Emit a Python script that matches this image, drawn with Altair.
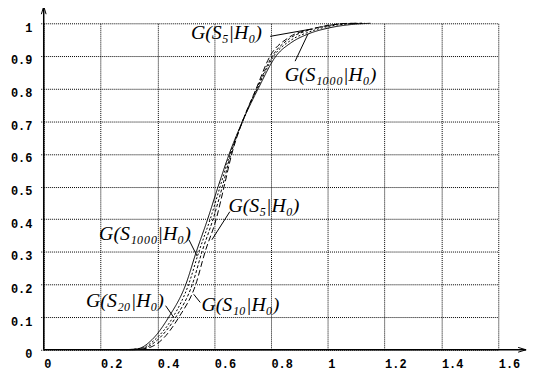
import altair as alt
import pandas as pd

# ---- data (curve points: x, cumulative probability) ----
curve_names = ["S1000", "S20", "S10", "S5"]

s1000_x = [0.27, 0.33, 0.38, 0.44, 0.50, 0.537, 0.577, 0.614, 0.653, 0.70, 0.755, 0.818, 0.87, 0.93, 1.00, 1.08, 1.15]
s1000_y = [0.0, 0.003, 0.03, 0.10, 0.20, 0.30, 0.40, 0.50, 0.60, 0.70, 0.80, 0.90, 0.94, 0.967, 0.985, 0.996, 1.0]

s20_x = [0.29, 0.345, 0.39, 0.455, 0.51, 0.546, 0.586, 0.621, 0.656, 0.70, 0.752, 0.81, 0.87, 0.93, 1.00, 1.07, 1.13]
s20_y = [0.0, 0.005, 0.03, 0.10, 0.20, 0.30, 0.40, 0.50, 0.60, 0.70, 0.80, 0.90, 0.948, 0.972, 0.99, 0.998, 1.0]

s10_x = [0.30, 0.35, 0.40, 0.465, 0.523, 0.557, 0.596, 0.629, 0.659, 0.70, 0.75, 0.805, 0.865, 0.93, 1.00, 1.06, 1.12]
s10_y = [0.0, 0.004, 0.03, 0.10, 0.20, 0.30, 0.40, 0.50, 0.60, 0.70, 0.80, 0.90, 0.953, 0.978, 0.993, 0.999, 1.0]

s5_x = [0.31, 0.36, 0.415, 0.476, 0.535, 0.568, 0.607, 0.635, 0.662, 0.70, 0.748, 0.797, 0.86, 0.94, 1.00, 1.05, 1.10]
s5_y = [0.0, 0.004, 0.03, 0.10, 0.20, 0.30, 0.40, 0.50, 0.60, 0.70, 0.80, 0.90, 0.955, 0.982, 0.993, 0.999, 1.0]

x_ticks = [0, 0.2, 0.4, 0.6, 0.8, 1, 1.2, 1.4, 1.6]
y_ticks = [0, 0.1, 0.2, 0.3, 0.4, 0.5, 0.6, 0.7, 0.8, 0.9, 1]

label_text = ["G(S₅|H₀)", "G(S₁₀₀₀|H₀)", "G(S₅|H₀)", "G(S₁₀₀₀|H₀)", "G(S₂₀|H₀)", "G(S₁₀|H₀)"]
label_x = [0.518, 0.848, 0.650, 0.195, 0.149, 0.555]
label_y = [0.951, 0.824, 0.4225, 0.337, 0.131, 0.119]

leader_x = [0.797, 0.885, 0.655, 0.511, 0.429, 0.551]
leader_y = [0.960, 0.884, 0.423, 0.337, 0.135, 0.145]
leader_x2 = [0.940, 0.930, 0.592, 0.540, 0.458, 0.528]
leader_y2 = [0.982, 0.967, 0.337, 0.287, 0.099, 0.170]

# ---- tables ----
rows = []
for name, xs_, ys_ in zip(curve_names, [s1000_x, s20_x, s10_x, s5_x], [s1000_y, s20_y, s10_y, s5_y]):
    for a, b in zip(xs_, ys_):
        rows.append({"curve": name, "x": a, "y": b})
curves = pd.DataFrame(rows)

labels = pd.DataFrame({"x": label_x, "y": label_y, "text": label_text})
leaders = pd.DataFrame({"x": leader_x, "y": leader_y, "x2": leader_x2, "y2": leader_y2})
axes_df = pd.DataFrame({"x": [0, 0], "y": [0, 0], "x2": [0, 1.698], "y2": [1.052, 0]})

xs = alt.Scale(domain=[0, 1.6], nice=False, zero=False)
ys = alt.Scale(domain=[0, 1], nice=False, zero=False)

X_AX = alt.Axis(values=x_ticks, format="~g", title=None, domain=False, ticks=False,
                labelAlign="left", labelBaseline="top", labelPadding=9,
                labelFont="Liberation Mono", labelFontWeight="bold", labelFontSize=12,
                labelColor="black", grid=True, gridDash=[1, 1], gridColor="black",
                gridOpacity=1, labelFlush=False, labelOverlap=False)
Y_AX = alt.Axis(values=y_ticks, format="~g", title=None, domain=False, ticks=True,
                tickSize=4, tickDash=[1, 1], tickColor="black",
                labelPadding=8, labelOffset=4,
                labelFont="Liberation Mono", labelFontWeight="bold", labelFontSize=12,
                labelColor="black", grid=True, gridDash=[1, 1], gridColor="black",
                gridOpacity=1, labelFlush=False, labelOverlap=False)

lines = alt.Chart(curves).mark_line(color="black", strokeWidth=1, interpolate="monotone").encode(
    x=alt.X("x:Q", scale=xs, axis=X_AX),
    y=alt.Y("y:Q", scale=ys, axis=Y_AX),
    detail="curve:N",
    strokeDash=alt.StrokeDash("curve:N", scale=alt.Scale(domain=curve_names,
                              range=[[1, 0], [2, 2], [3, 2], [6, 3]]), legend=None),
)

axis_lines = alt.Chart(axes_df).mark_rule(color="black", strokeWidth=1.5).encode(
    x=alt.X("x:Q", scale=xs, axis=X_AX), y=alt.Y("y:Q", scale=ys, axis=Y_AX),
    x2="x2:Q", y2="y2:Q")

up_arrow = alt.Chart(pd.DataFrame({"x": [0], "y": [1.04]})).mark_point(
    shape="M-0.6,1L0,-1L0.6,1", filled=False, color="black", strokeWidth=1, size=64, opacity=1
).encode(x=alt.X("x:Q", scale=xs, axis=X_AX), y=alt.Y("y:Q", scale=ys, axis=Y_AX))

right_arrow = alt.Chart(pd.DataFrame({"x": [1.684], "y": [0]})).mark_point(
    shape="M-1,-0.6L1,0L-1,0.6", filled=False, color="black", strokeWidth=1, size=64, opacity=1
).encode(x=alt.X("x:Q", scale=xs, axis=X_AX), y=alt.Y("y:Q", scale=ys, axis=Y_AX))

leader_lines = alt.Chart(leaders).mark_rule(color="black", strokeWidth=1).encode(
    x=alt.X("x:Q", scale=xs, axis=X_AX), y=alt.Y("y:Q", scale=ys, axis=Y_AX),
    x2="x2:Q", y2="y2:Q")

texts = alt.Chart(labels).mark_text(align="left", baseline="alphabetic", font="Liberation Serif",
                                    fontStyle="italic", fontSize=20, color="black").encode(
    x=alt.X("x:Q", scale=xs, axis=X_AX), y=alt.Y("y:Q", scale=ys, axis=Y_AX), text="text:N")

chart = alt.layer(lines, axis_lines, up_arrow, right_arrow, leader_lines, texts).properties(
    width=458, height=329,
    autosize=alt.AutoSizeParams(type="none"),
    padding={"left": 36, "top": 14, "right": 34, "bottom": 25},
    background="white",
).configure_view(strokeWidth=0)

chart.save("out.html", embed_options={"renderer": "svg", "actions": False})
